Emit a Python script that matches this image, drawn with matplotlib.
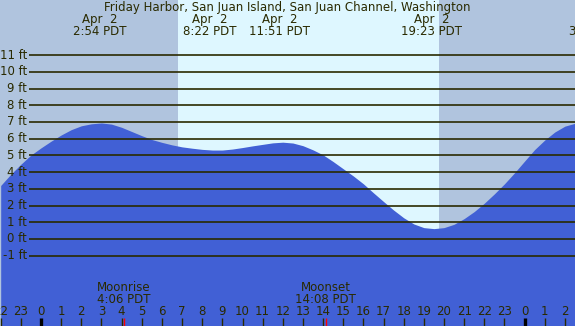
import matplotlib
matplotlib.use('Agg')
import matplotlib.pyplot as plt
import numpy as np

# tide heights (ft) read every half hour, hours relative to midnight Apr 2
hours = np.arange(-2.0, 27.0, 0.5)
tide = [3.2, 3.87, 4.47, 5.02, 5.45, 5.85, 6.22, 6.54, 6.77, 6.89,
        6.94, 6.87, 6.68, 6.43, 6.18, 5.95, 5.78, 5.63, 5.51, 5.43,
        5.36, 5.32, 5.32, 5.38, 5.47, 5.57, 5.66, 5.75, 5.79, 5.74,
        5.58, 5.33, 5.03, 4.63, 4.2, 3.77, 3.3, 2.76, 2.24, 1.73,
        1.27, 0.9, 0.68, 0.62, 0.68, 0.88, 1.22, 1.64, 2.14, 2.7,
        3.3, 3.96, 4.66, 5.35, 5.92, 6.4, 6.75, 6.92]

event_dates = ['Apr  2', 'Apr  2', 'Apr  2', 'Apr  2', 'Apr  3']
event_times = ['2:54', '8:22', '11:51', '19:23', '3:31']
event_offset = [0, 0, 0, 0, 24]

sunrise = '6:48'
sunset = '19:45'
moon_names = ['Moonrise', 'Moonset']
moon_times = ['4:06', '14:08']

feet = list(range(-1, 12))
title = 'Friday Harbor, San Juan Island, San Juan Channel, Washington'

def to_h(s):
    hh, mm = s.split(':')
    return int(hh) + int(mm) / 60


W, H = 575, 326
px_per_h = 20.15
x0 = 41          # pixel of midnight
y0 = 239         # pixel of 0 ft
px_per_ft = 16.72
fs = 8.5

night = '#B0C4DE'
day = '#DEF7FF'
water = '#4160D5'
ink = '#2A2A00'

fig = plt.figure(figsize=(W / 100, H / 100), dpi=100)
ax = fig.add_axes([0, 0, 1, 1])
ax.set_xlim(-x0 / px_per_h, (W - x0) / px_per_h)
ax.set_ylim((y0 - H) / px_per_ft, y0 / px_per_ft)
ax.axis('off')
ax.set_facecolor(night)
fig.patch.set_facecolor(night)
ax.axvspan(to_h(sunrise), to_h(sunset), color=day, lw=0, zorder=0)

ax.fill_between(hours, tide, -10, color=water, lw=0, zorder=1)

# horizontal grid with labels
gx = (29 - x0) / px_per_h
for f in feet:
    ax.plot([gx, 30], [f, f], color=ink, lw=1.2, zorder=2, solid_capstyle='butt')
    ax.text((27 - x0) / px_per_h, f, '%d ft' % f, ha='right', va='center',
            fontsize=fs, color=ink, zorder=3)

xt = ax.get_xaxis_transform()
def yf(py):
    return 1 - py / H

ax.text(0.5, yf(7.5), title, transform=ax.transAxes, ha='center', va='center',
        fontsize=fs, color=ink)
for d, t, o in zip(event_dates, event_times, event_offset):
    h = to_h(t) + o
    ax.text(h, yf(20), d, transform=xt, ha='center', va='center', fontsize=fs, color=ink)
    ax.text(h, yf(31.5), t + ' PDT', transform=xt, ha='center', va='center', fontsize=fs, color=ink)

# hour axis at bottom
for h in range(-2, 27):
    ax.text(h, yf(311.5), str(h % 24), transform=xt, ha='center', va='center',
            fontsize=fs, color=ink, zorder=4)
    if h % 24 == 0:
        ax.vlines(h, 0, yf(318), transform=xt, color='black', lw=2.4, zorder=4)
    else:
        ax.vlines(h, 0, yf(318), transform=xt, color=ink, lw=1, zorder=4)

for n, t in zip(moon_names, moon_times):
    h = to_h(t)
    ax.text(h, yf(287.5), n, transform=xt, ha='center', va='center', fontsize=fs, color=ink)
    ax.text(h, yf(299.5), t + ' PDT', transform=xt, ha='center', va='center', fontsize=fs, color=ink)
    ax.vlines(h, 0, yf(318), transform=xt, color='red', lw=1, zorder=4)

fig.savefig('out.png', dpi=100, facecolor=night)
